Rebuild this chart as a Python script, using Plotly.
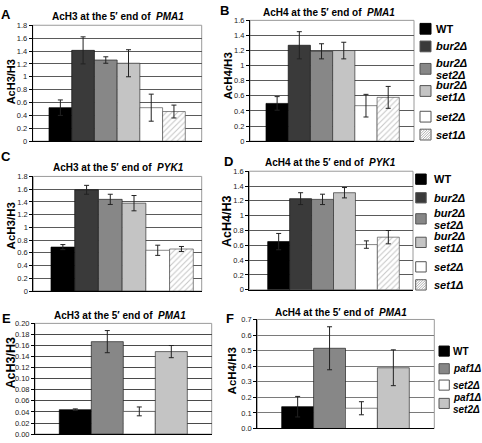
import plotly.graph_objects as go

W, H = 482, 443
FONT = "Liberation Sans, Arial, sans-serif"

# ---------------- data ----------------
strains6 = ["WT", "bur2Δ", "bur2Δ set2Δ", "bur2Δ set1Δ", "set2Δ", "set1Δ"]
strains4 = ["WT", "paf1Δ", "set2Δ", "paf1Δ set2Δ"]

ach3_pma1 = [0.52, 1.41, 1.26, 1.21, 0.52, 0.46]
ach3_pma1_err = [0.12, 0.21, 0.05, 0.21, 0.21, 0.10]

ach4_pma1 = [0.50, 1.27, 1.19, 1.20, 0.47, 0.58]
ach4_pma1_err = [0.09, 0.18, 0.10, 0.11, 0.15, 0.145]

ach3_pyk1 = [0.69, 1.59, 1.44, 1.38, 0.64, 0.66]
ach3_pyk1_err = [0.04, 0.07, 0.08, 0.12, 0.08, 0.04]

ach4_pyk1 = [0.65, 1.23, 1.22, 1.31, 0.61, 0.71]
ach4_pyk1_err = [0.11, 0.08, 0.07, 0.07, 0.05, 0.09]

ach3_pma1_paf = [0.044, 0.167, 0.041, 0.149]
ach3_pma1_paf_err = [0.0015, 0.020, 0.008, 0.011]

ach4_pma1_paf = [0.14, 0.515, 0.13, 0.39]
ach4_pma1_paf_err = [0.066, 0.138, 0.042, 0.115]

# ---------------- styles ----------------
style6 = [
    dict(color="#000000", line="#000000", hatch=False),
    dict(color="#3a3a3a", line="#111111", hatch=False),
    dict(color="#878787", line="#222222", hatch=False),
    dict(color="#c4c4c4", line="#333333", hatch=False),
    dict(color="#ffffff", line="#555555", hatch=False),
    dict(color="#ffffff", line="#555555", hatch=True),
]
style4 = [
    dict(color="#000000", line="#000000", hatch=False),
    dict(color="#878787", line="#222222", hatch=False),
    dict(color="#ffffff", line="#555555", hatch=False),
    dict(color="#c4c4c4", line="#333333", hatch=False),
]

# plot boxes in pixels: left, top, right, bottom ; bars extent left/right
panels = [
    dict(letter="A", vals=ach3_pma1, errs=ach3_pma1_err, names=strains6, styles=style6,
         box=(32.7, 21.7, 201.7, 140.0), bars=(49.0, 185.3), ymax=1.8, dtick=0.2, fmt="",
         title="AcH3 at the 5′ end of\u00a0\u00a0<i>PMA1</i>", ylab="AcH3/H3", ylab_size=11,
         letter_xy=(6, 11), title_xy=(118, 13), ylab_xy=(11, 80), grid="#5a5a5a"),
    dict(letter="B", vals=ach4_pma1, errs=ach4_pma1_err, names=strains6, styles=style6,
         box=(250.0, 16.7, 414.0, 140.0), bars=(266.0, 399.3), ymax=1.6, dtick=0.2, fmt="",
         title="AcH4 at the 5′ end of\u00a0\u00a0<i>PMA1</i>", ylab="AcH4/H3", ylab_size=11.5,
         letter_xy=(224, 7), title_xy=(329, 8.5), ylab_xy=(228, 74), grid="#5a5a5a"),
    dict(letter="C", vals=ach3_pyk1, errs=ach3_pyk1_err, names=strains6, styles=style6,
         box=(33.3, 176.0, 201.7, 293.0), bars=(51.0, 193.3), ymax=1.8, dtick=0.2, fmt="",
         title="AcH3 at the 5′ end of\u00a0\u00a0<i>PYK1</i>", ylab="AcH3/H3", ylab_size=11.5,
         letter_xy=(6, 156), title_xy=(118, 167), ylab_xy=(11, 227), grid="#5a5a5a"),
    dict(letter="D", vals=ach4_pyk1, errs=ach4_pyk1_err, names=strains6, styles=style6,
         box=(249.3, 170.7, 413.0, 291.7), bars=(267.7, 399.3), ymax=1.6, dtick=0.2, fmt="",
         title="AcH4 at the 5′ end of\u00a0\u00a0<i>PYK1</i>", ylab="AcH4/H3", ylab_size=12.5,
         letter_xy=(228, 161), title_xy=(330, 162), ylab_xy=(227.5, 222), grid="#5a5a5a"),
    dict(letter="E", vals=ach3_pma1_paf, errs=ach3_pma1_paf_err, names=strains4, styles=style4,
         box=(35.0, 326.0, 211.7, 439.0), bars=(59.3, 187.3), ymax=0.2, dtick=0.02, fmt=".2f",
         title="AcH3 at the 5′ end of\u00a0\u00a0<i>PMA1</i>", ylab="AcH3/H3", ylab_size=12.5,
         letter_xy=(6, 321), title_xy=(120, 318), ylab_xy=(11, 367), grid="#4a4a4a"),
    dict(letter="F", vals=ach4_pma1_paf, errs=ach4_pma1_paf_err, names=strains4, styles=style4,
         box=(257.3, 322.0, 434.3, 433.3), bars=(281.7, 409.3), ymax=0.7, dtick=0.1, fmt=".1f",
         title="AcH4 at the 5′ end of\u00a0\u00a0<i>PMA1</i>", ylab="AcH4/H3", ylab_size=11.5,
         letter_xy=(230, 321), title_xy=(341, 315), ylab_xy=(232, 375), grid="#7a7a7a"),
]

# hand-drawn legends (pixel layout): swatch left x, text left x, item centre ys, swatch size
legends = [
    dict(names=strains6, styles=style6, x_sw=420.0, x_txt=434.5, size=11.0, font=11,
         ys=[25.3, 43.3, 66.2, 88.8, 115.0, 133.3]),
    dict(names=strains6, styles=style6, x_sw=415.7, x_txt=432.5, size=10.5, font=11,
         ys=[178.8, 197.8, 219.3, 243.3, 268.3, 286.7]),
    dict(names=strains4, styles=style4, x_sw=439.0, x_txt=451.5, size=10.3, font=10,
         ys=[354.3, 372.3, 389.0, 407.7]),
]

BARGAP = 0.2
fig = go.Figure()
annotations = []
shapes = []
layout_axes = {}


def px(x):
    return x / W


def py(y):
    return 1 - y / H


for k, p in enumerate(panels):
    n = "" if k == 0 else str(k + 1)
    xa, ya = "x" + n, "y" + n
    L, T, R, B = p["box"]
    bl, br = p["bars"]
    half = (1 - BARGAP) / 2
    s = (br - bl) / (1 - BARGAP)
    xr = [-half - (bl - L) / s, half + (R - br) / s]

    for i, name in enumerate(p["names"]):
        st = p["styles"][i]
        marker = dict(color=st["color"], line=dict(color=st["line"], width=0.7))
        if st["hatch"]:
            marker["pattern"] = dict(shape="/", fgcolor="#8a8a8a", bgcolor="#ffffff",
                                     size=4, solidity=0.25)
        fig.add_trace(go.Bar(
            x=[0], y=[p["vals"][i]],
            error_y=dict(type="data", array=[p["errs"][i]], color="#222222",
                         thickness=1, width=2.5),
            marker=marker, name=name, showlegend=False,
            xaxis=xa, yaxis=ya, hoverinfo="skip",
        ))

    layout_axes["xaxis" + n] = dict(
        domain=[px(L), px(R)], anchor=ya, range=xr, showgrid=False, zeroline=False,
        showticklabels=False, ticks="", showline=True, linecolor="#000000", linewidth=1,
        fixedrange=True,
    )
    layout_axes["yaxis" + n] = dict(
        domain=[py(B), py(T)], anchor=xa, range=[0, p["ymax"]],
        dtick=p["dtick"], tick0=0, tickformat=p["fmt"], showgrid=True,
        gridcolor=p["grid"], gridwidth=1, zeroline=False, showline=True,
        linecolor="#000000", linewidth=1, ticks="outside", ticklen=3,
        tickcolor="#000000", tickwidth=1,
        tickfont=dict(family=FONT, size=7.5, color="#222222"), fixedrange=True,
    )
    shapes.append(dict(type="rect", xref=xa + " domain", yref=ya + " domain",
                       x0=0, x1=1, y0=0, y1=1, line=dict(color="#9a9a9a", width=1),
                       layer="below"))

    annotations.append(dict(text="<b>" + p["letter"] + "</b>", xref="paper", yref="paper",
                            x=px(p["letter_xy"][0]), y=py(p["letter_xy"][1]),
                            showarrow=False, font=dict(family=FONT, size=13, color="#000"),
                            xanchor="center", yanchor="middle"))
    annotations.append(dict(text="<b>" + p["title"] + "</b>", xref="paper", yref="paper",
                            x=px(p["title_xy"][0]), y=py(p["title_xy"][1]),
                            showarrow=False, font=dict(family=FONT, size=10, color="#000"),
                            xanchor="center", yanchor="middle"))
    annotations.append(dict(text="<b>" + p["ylab"] + "</b>", xref="paper", yref="paper",
                            x=px(p["ylab_xy"][0]), y=py(p["ylab_xy"][1]),
                            textangle=-90, showarrow=False,
                            font=dict(family=FONT, size=p["ylab_size"], color="#000"),
                            xanchor="center", yanchor="middle"))

# legends: swatches + labels
for lg in legends:
    sz = lg["size"]
    for name, st, yc in zip(lg["names"], lg["styles"], lg["ys"]):
        x0, x1 = lg["x_sw"], lg["x_sw"] + sz
        y0, y1 = yc - sz / 2, yc + sz / 2
        border = "#000000" if st["color"] == "#000000" else "#555555"
        shapes.append(dict(type="rect", xref="paper", yref="paper",
                           x0=px(x0), x1=px(x1), y0=py(y1), y1=py(y0),
                           fillcolor=st["color"], line=dict(color=border, width=1)))
        if st["hatch"]:
            path = ""
            step = 2.6
            d = step
            while d < 2 * sz:
                if d <= sz:
                    sx, sy = x0, y0 + d
                    ex, ey = x0 + d, y0
                else:
                    sx, sy = x0 + (d - sz), y1
                    ex, ey = x1, y0 + (d - sz)
                path += "M{:.5f},{:.5f}L{:.5f},{:.5f}".format(px(sx), py(sy), px(ex), py(ey))
                d += step
            shapes.append(dict(type="path", xref="paper", yref="paper", path=path,
                               line=dict(color="#9a9a9a", width=0.8)))
        lines = name.split(" ")
        offs = [0.0] if len(lines) == 1 else [-6.2, 6.2]
        for ln, off in zip(lines, offs):
            txt = "<b>" + (ln if ln == "WT" else "<i>" + ln + "</i>") + "</b>"
            annotations.append(dict(text=txt, xref="paper", yref="paper",
                                    x=px(lg["x_txt"]), y=py(yc + off), showarrow=False,
                                    xanchor="left", yanchor="middle", borderpad=0,
                                    font=dict(family=FONT, size=lg["font"], color="#000")))

fig.update_layout(
    width=W, height=H, margin=dict(l=0, r=0, t=0, b=0),
    paper_bgcolor="#ffffff", plot_bgcolor="#ffffff",
    barmode="group", bargap=BARGAP, bargroupgap=0,
    font=dict(family=FONT), showlegend=False, hovermode=False,
    annotations=annotations, shapes=shapes,
    **layout_axes,
)

# remove the browser's default 8px page margin so the figure fills the window exactly
fig.write_html("out.html", config={"displayModeBar": False, "staticPlot": True},
               post_script="document.body.style.margin='0';document.body.style.overflow='hidden';")
